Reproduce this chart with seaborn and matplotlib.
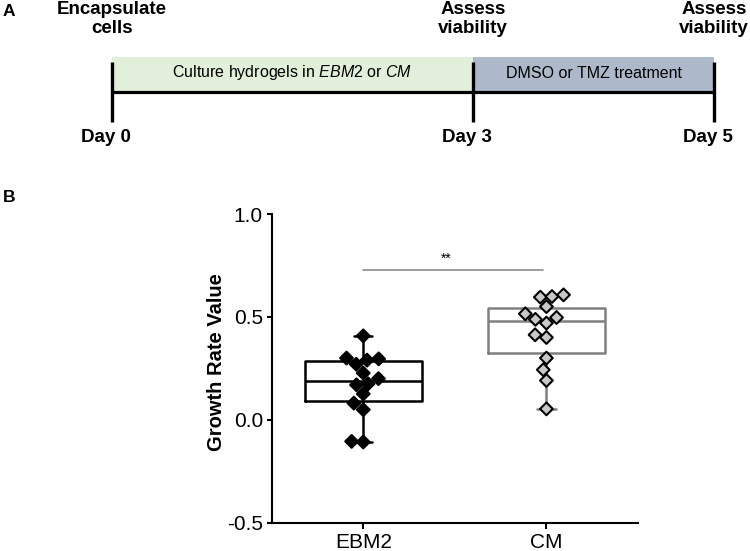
import numpy as np
import pandas as pd
import matplotlib
matplotlib.use("Agg")
import matplotlib.pyplot as plt
import seaborn as sns
from matplotlib.patches import Rectangle

sns.set_theme(style="ticks")
plt.rcParams["font.family"] = ["Liberation Sans", "DejaVu Sans"]
plt.rcParams["mathtext.fontset"] = "custom"
plt.rcParams["mathtext.it"] = "Liberation Sans:italic"
plt.rcParams["mathtext.rm"] = "Liberation Sans"
for k in ["text.color", "axes.labelcolor", "xtick.color", "ytick.color", "axes.edgecolor"]:
    plt.rcParams[k] = "black"

# ---------------- data ----------------
groups = ["EBM2", "CM"]
ebm2_values = [-0.108, -0.105, 0.049, 0.081, 0.126, 0.17, 0.175, 0.20,
               0.227, 0.27, 0.29, 0.296, 0.30, 0.408]
cm_values = [0.053, 0.191, 0.243, 0.30, 0.40, 0.413, 0.47, 0.488,
             0.497, 0.515, 0.55, 0.596, 0.599, 0.607]
y_ticks = [-0.5, 0.0, 0.5, 1.0]
y_tick_labels = ["-0.5", "0.0", "0.5", "1.0"]
significance_label = "**"

timeline_days = [0, 3, 5]
day_labels = ["Day 0", "Day 3", "Day 5"]
event_labels = ["Encapsulate\ncells", "Assess\nviability", "Assess\nviability"]
phase_starts = [0, 3]
phase_ends = [3, 5]
phase_labels = ["Culture hydrogels in $\\it{EBM2}$ or $\\it{CM}$", "DMSO or TMZ treatment"]
phase_colors = ["#e2efda", "#adb9ca"]

box_colors = {"EBM2": "black", "CM": "#808080"}
point_colors = {"EBM2": "black", "CM": "#c8c8c8"}

# ---------------- figure ----------------
W, H = 750, 551
fig = plt.figure(figsize=(W / 100, H / 100), dpi=100)

# Panel A: timeline
axA = fig.add_axes([0, 1 - 150 / H, 1, 150 / H])
axA.set_xlim(-0.927, 5.297)
axA.set_ylim(150, 0)
axA.axis("off")
for s, e, lab, c in zip(phase_starts, phase_ends, phase_labels, phase_colors):
    axA.add_patch(Rectangle((s, 57), e - s, 34, facecolor=c, edgecolor="none", zorder=1))
    axA.text((s + e) / 2, 73, lab, ha="center", va="center", fontsize=11.5, zorder=3)
axA.plot([timeline_days[0], timeline_days[-1]], [92, 92], color="black", lw=2.3,
         solid_capstyle="butt", zorder=2)
axA.vlines(timeline_days, 62, 122, color="black", lw=2.4, zorder=2)
for d, lab in zip(timeline_days, event_labels):
    axA.text(d, 19, lab, ha="center", va="center", fontsize=13.5, fontweight="bold",
             linespacing=1.15)
for d, lab in zip(timeline_days, day_labels):
    axA.text(d - 0.05, 137, lab, ha="center", va="center", fontsize=13.5, fontweight="bold")

fig.text(9 / W, 1 - 11 / H, "A", ha="center", va="center", fontsize=12.5, fontweight="bold")
fig.text(9 / W, 1 - 197 / H, "B", ha="center", va="center", fontsize=12.5, fontweight="bold")

# Panel B: box + scatter
axB = fig.add_axes([271.7 / W, 28.3 / H, 366.3 / W, 308.7 / H])
df = pd.DataFrame({
    "group": ["EBM2"] * len(ebm2_values) + ["CM"] * len(cm_values),
    "value": ebm2_values + cm_values,
})
sns.boxplot(data=df, x="group", y="value", hue="group", order=groups, hue_order=groups,
            palette=box_colors, fill=False, whis=(0, 100), width=0.64, linewidth=1.8,
            dodge=False, legend=False, saturation=1, showfliers=False,
            capwidths=0.1, ax=axB)
sns.swarmplot(data=df, x="group", y="value", hue="group", order=groups, hue_order=groups,
              palette=point_colors, marker="D", size=6.5, edgecolor="black", linewidth=1.5,
              legend=False, zorder=3, ax=axB)

axB.plot([0.0, 0.98], [0.728, 0.728], color="#8c8c8c", lw=1.2)
axB.text(0.453, 0.762, significance_label, ha="center", va="baseline", fontsize=10)

axB.set_xlim(-0.5, 1.5)
axB.set_ylim(-0.5, 1.0)
axB.set_yticks(y_ticks)
axB.set_yticklabels(y_tick_labels)
axB.set_xlabel("")
axB.set_ylabel("Growth Rate Value", fontsize=14.5, fontweight="bold")
axB.yaxis.set_label_coords(-0.125, 0.52)
for sp in ["top", "right"]:
    axB.spines[sp].set_visible(False)
for sp in ["left", "bottom"]:
    axB.spines[sp].set_linewidth(1.5)
axB.tick_params(axis="y", length=3.6, width=1.5, pad=2.7, labelsize=15)
axB.tick_params(axis="x", length=4.3, width=1.5, pad=3, labelsize=15)

fig.savefig("out.png", dpi=100)
